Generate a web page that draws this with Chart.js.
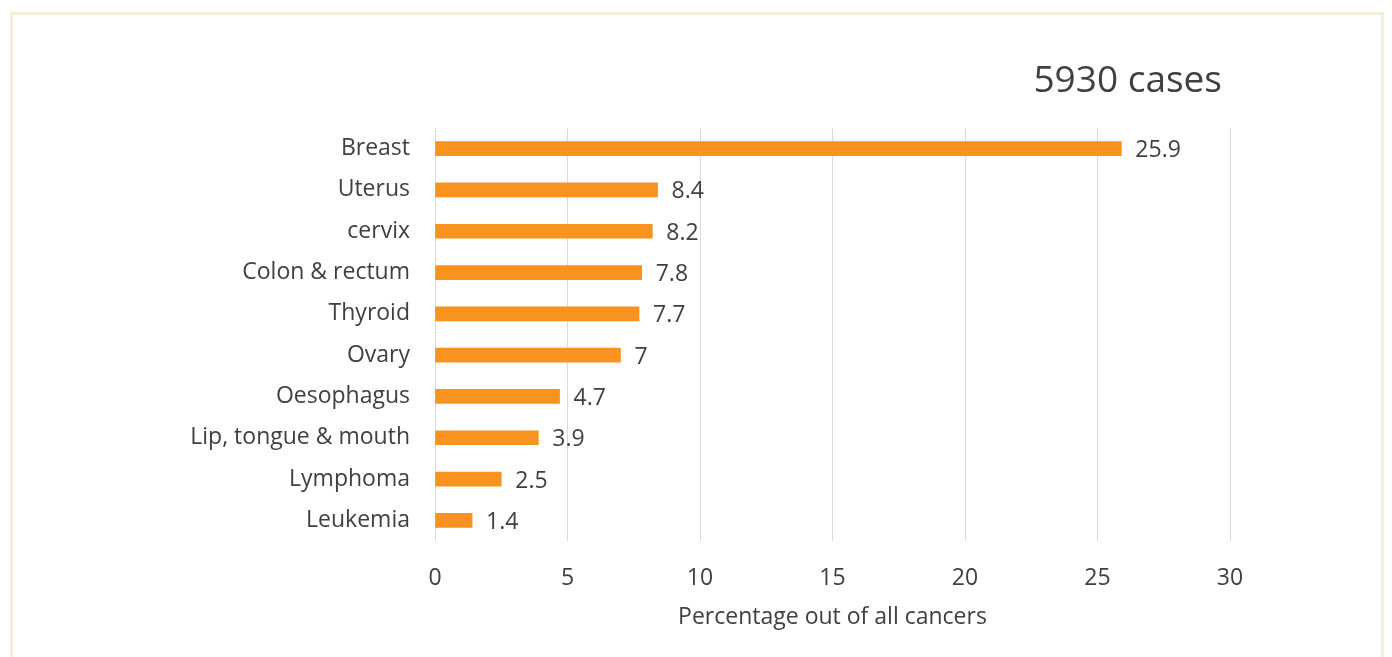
<!DOCTYPE html>
<html>
<head>
<meta charset="utf-8">
<script src="https://cdn.jsdelivr.net/npm/chart.js@4/dist/chart.umd.min.js"></script>
<style>
  html, body { margin: 0; padding: 0; background: #fff; }
  #wrap { position: relative; width: 1392px; height: 657px; overflow: hidden; }
  #frame { position: absolute; left: 10px; top: 12px; width: 1374px; height: 700px;
           border: 3px solid #f5eedb; box-sizing: border-box; }
  canvas { position: absolute; left: 0; top: 0; }
</style>
</head>
<body>
<div id="wrap">
  <div id="frame"></div>
  <canvas id="cancer-chart" width="1392" height="657"></canvas>
</div>
<script>
const sites = ['Breast', 'Uterus', 'cervix', 'Colon & rectum', 'Thyroid', 'Ovary',
               'Oesophagus', 'Lip, tongue & mouth', 'Lymphoma', 'Leukemia']
const percents = [25.9, 8.4, 8.2, 7.8, 7.7, 7, 4.7, 3.9, 2.5, 1.4]
const xTicks = [0, 5, 10, 15, 20, 25, 30]
const titleText = '5930 cases'

const textColor = '#404040'
const fontName = "'Open Sans', sans-serif"

// value labels at bar ends + the "cases" title above the plot
const barLabels = {
  id: 'barLabels',
  afterDatasetsDraw(chart) {
    const ctx = chart.ctx
    const meta = chart.getDatasetMeta(0)
    ctx.save()
    ctx.font = '23px ' + fontName
    ctx.fillStyle = textColor
    ctx.textAlign = 'left'
    ctx.textBaseline = 'middle'
    meta.data.forEach((bar, i) => {
      ctx.fillText(String(percents[i]), bar.x + 14, bar.y + 2)
    })

    ctx.font = '37px ' + fontName
    ctx.textAlign = 'right'
    ctx.fillText(titleText, chart.chartArea.right - 8, 81)
    ctx.restore()
  }
}

new Chart(document.getElementById('cancer-chart'), {
  type: 'bar',
  data: {
    labels: sites,
    datasets: [{
      data: percents,
      backgroundColor: '#f7931e',
      barThickness: 14
    }]
  },
  options: {
    indexAxis: 'y',
    responsive: false,
    animation: false,
    layout: { padding: { left: 0, right: 162, top: 128, bottom: 20 } },
    plugins: {
      legend: { display: false },
      tooltip: { enabled: false }
    },
    scales: {
      x: {
        min: 0,
        max: 30,
        afterBuildTicks: s => { s.ticks = xTicks.map(v => ({ value: v })) },
        afterFit: s => { s.height = 96 },
        grid: { color: '#d9d9d9', drawTicks: false },
        border: { display: false },
        ticks: { color: textColor, padding: 24, font: { family: fontName, size: 23 } },
        title: {
          display: true,
          text: 'Percentage out of all cancers',
          color: textColor,
          font: { family: fontName, size: 23 },
          padding: { top: 0, bottom: 6 }
        }
      },
      y: {
        afterFit: s => { s.width = 435 },
        grid: { display: false, drawTicks: false },
        border: { display: false },
        ticks: { color: textColor, padding: 25, font: { family: fontName, size: 23 } }
      }
    }
  },
  plugins: [barLabels]
})
</script>
</body>
</html>
